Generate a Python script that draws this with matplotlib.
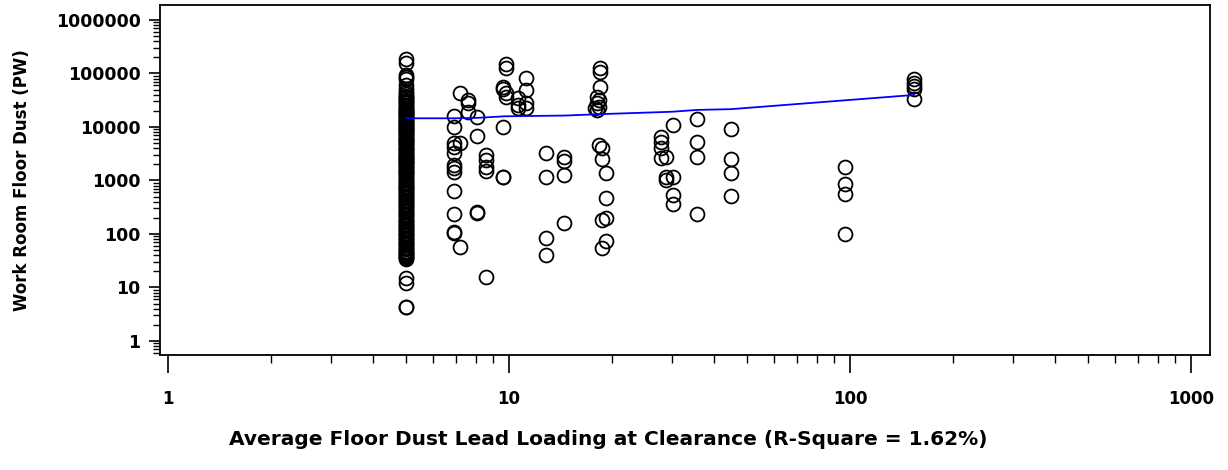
import matplotlib
matplotlib.use('Agg')
import matplotlib.pyplot as plt
from matplotlib.ticker import LogLocator, NullFormatter

plt.rcParams['font.family'] = ['DejaVu Sans']
plt.rcParams['font.weight'] = 'bold'

# column at clearance loading = 5 (many overlapping points)
x5_y = [190000, 160000, 95000, 85000, 78000, 62000, 52000, 45000, 41000, 38000,
        36000, 34000, 32000, 31000, 29000, 28000, 26000, 24500, 23000, 22000,
        21000, 19500, 19000, 18000, 17500, 16500, 16000, 15000, 14500, 13500,
        13000, 12500, 12000, 11500, 11000, 10500, 10000, 9500, 9200, 8800,
        8500, 8000, 7800, 7400, 7000, 6600, 6300, 6000, 5800, 5500,
        5200, 5000, 4800, 4500, 4300, 4100, 3900, 3700, 3500, 3300,
        3200, 3000, 2900, 2700, 2600, 2500, 2400, 2300, 2200, 2100,
        2000, 1900, 1800, 1700, 1600, 1500, 1450, 1350, 1300, 1200,
        1150, 1050, 1000, 950, 900, 850, 800, 750, 720, 680,
        650, 610, 580, 550, 520, 490, 460, 430, 410, 390,
        370, 350, 330, 310, 290, 270, 260, 240, 230, 215,
        200, 185, 175, 165, 155, 145, 140, 130, 125, 118,
        112, 106, 100, 95, 90, 85, 80, 76, 72, 68,
        65, 61, 58, 55, 52, 49, 47, 45, 43, 41,
        39, 37, 36, 34, 15, 12, 4.4, 4.3]

# remaining points (x = clearance loading, y = work room floor dust)
other_x = [6.9, 6.9, 6.9, 6.9, 6.9, 6.9, 6.9, 6.9, 6.9, 6.9, 6.9, 6.9,
           7.2, 7.2, 7.2, 7.6, 7.6, 7.6, 8.05, 8.05, 8.05, 8.05,
           8.55, 8.55, 8.55, 8.55, 8.55,
           9.6, 9.6, 9.6, 9.6, 9.8, 9.8, 9.8, 9.8, 9.6,
           10.6, 10.6, 10.6, 11.2, 11.2, 11.2, 11.2,
           12.8, 12.8, 12.8, 12.8, 14.5, 14.5, 14.5, 14.5,
           18.5, 18.5, 18.5, 18.1, 18.3, 18.1, 18.3, 17.9, 18.1,
           18.3, 18.7, 18.7, 19.2, 19.2, 18.7, 19.2, 19.2, 18.7,
           27.9, 27.9, 27.9, 27.9, 28.9, 28.9, 28.9, 30.3, 30.3, 30.3, 30.3,
           35.6, 35.6, 35.6, 35.6, 44.8, 44.8, 44.8, 44.8,
           96.7, 96.7, 96.7, 96.7,
           154, 154, 154, 154, 154]
other_y = [16100, 10000, 5000, 3270, 1950, 1710, 1440, 637, 237, 109, 105, 4230,
           43200, 5000, 57, 32000, 28100, 19100, 15400, 6800, 258, 247,
           3000, 2420, 1790, 1510, 15.7,
           56000, 51300, 10000, 1160, 150600, 126700, 43200, 36300, 1160,
           34800, 25800, 22600, 82400, 49000, 28100, 22600,
           3270, 1160, 84, 40.5, 2750, 2310, 1270, 161,
           126700, 106700, 56000, 36300, 32000, 28100, 23600, 22600, 20800,
           4610, 4050, 2520, 1380, 471, 183, 199, 74, 55,
           6500, 5250, 4050, 2640, 2750, 1160, 1020, 1160, 536, 364, 10900,
           14100, 5250, 2750, 237, 9180, 2520, 1380, 513,
           1790, 860, 560, 100,
           78900, 66300, 58300, 51300, 33400]

# fitted line
fit_x = [5, 6.9, 8.1, 9.7, 11.2, 14.5, 18.3, 28.5, 30.3, 35.6, 44.8, 154]
fit_y = [14500, 14500, 14800, 15800, 16000, 16300, 17300, 19000, 19300, 20800, 21500, 39600]

fig = plt.figure(figsize=(12.28, 4.70), dpi=100)
ax = fig.add_axes([160 / 1228, 1 - 355 / 470, 1050 / 1228, 350 / 470])

ax.plot([5] * len(x5_y), x5_y, 'o', mfc='none', mec='black', ms=10, mew=1.3)
ax.plot(other_x, other_y, 'o', mfc='none', mec='black', ms=10, mew=1.3)
ax.plot(fit_x, fit_y, color='#0000ff', lw=1.3)

ax.set_xscale('log')
ax.set_yscale('log')
ax.set_xlim(0.947, 1137)
ax.set_ylim(0.547, 1.9e6)

xt = [1, 10, 100, 1000]
yt = [1, 10, 100, 1000, 10000, 100000, 1000000]
ax.set_xticks(xt, [str(v) for v in xt])
ax.set_yticks(yt, [str(v) for v in yt])
ax.xaxis.set_minor_locator(LogLocator(base=10, subs=range(2, 10)))
ax.yaxis.set_minor_locator(LogLocator(base=10, subs=range(2, 10)))
ax.xaxis.set_minor_formatter(NullFormatter())
ax.yaxis.set_minor_formatter(NullFormatter())

ax.tick_params(axis='x', which='major', length=13, width=1.2, pad=12, labelsize=12)
ax.tick_params(axis='x', which='minor', length=6, width=1.0)
ax.tick_params(axis='y', which='major', length=8, width=1.2, pad=6, labelsize=12.5)
ax.tick_params(axis='y', which='minor', length=5, width=1.0)
for s in ax.spines.values():
    s.set_linewidth(1.3)

ax.set_ylabel('Work Room Floor Dust (PW)', fontsize=12, fontweight='bold', labelpad=18)
fig.text(0.495, 0.064, 'Average Floor Dust Lead Loading at Clearance (R-Square = 1.62%)',
         ha='center', va='center', fontsize=14.5, fontweight='bold')

fig.savefig('out.png', dpi=100)
